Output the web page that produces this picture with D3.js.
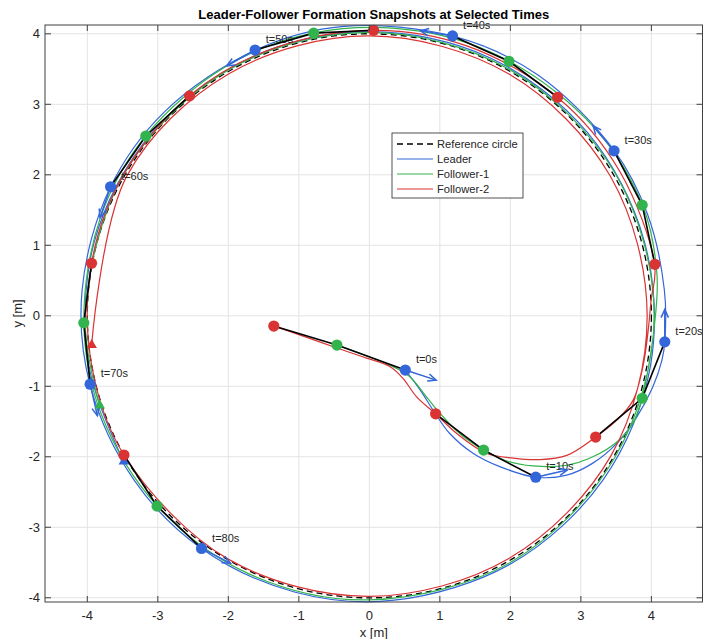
<!DOCTYPE html>
<html>
<head>
<meta charset="utf-8">
<script src="https://cdn.jsdelivr.net/npm/d3@7"></script>
<style>
  body { margin: 0; background: #fff; }
  text { font-family: "Liberation Sans", Arial, sans-serif; fill: #262626; }
</style>
</head>
<body>
<svg id="chart" width="703" height="639"></svg>
<script>
// ---- data ----
var xTicks = [-4, -3, -2, -1, 0, 1, 2, 3, 4];
var yTicks = [-4, -3, -2, -1, 0, 1, 2, 3, 4];
var refRadius = 4;

var snapTimes = [0, 10, 20, 30, 40, 50, 60, 70, 80];
var leaderSnap = [[0.51,-0.77],[2.36,-2.29],[4.19,-0.37],[3.47,2.34],[1.18,3.97],[-1.62,3.77],[-3.67,1.83],[-3.96,-0.97],[-2.38,-3.30]];
var f1Snap = [[-0.46,-0.415],[1.62,-1.905],[3.87,-1.17],[3.87,1.57],[1.98,3.61],[-0.79,4.01],[-3.17,2.55],[-4.05,-0.10],[-3.01,-2.70]];
var f2Snap = [[-1.355,-0.146],[0.94,-1.39],[3.21,-1.72],[4.05,0.73],[2.67,3.10],[0.06,4.05],[-2.55,3.12],[-3.94,0.745],[-3.48,-1.975]];
var leaderHeading = [-18, 13, 90, 130, 171, 209, 251, 283, 333]; // degrees
var arrowLen = 0.46;

// transient part of each path (x, y)
var leaderStart = [[0.51,-0.77],[0.72,-1.05],[0.905,-1.34],[1.14,-1.67],[1.47,-1.95],[1.85,-2.14],[2.36,-2.29],[2.8,-2.26],[3.17,-2.09],[3.51,-1.81],[3.79,-1.44],[4.02,-1.01],[4.15,-0.63],[4.19,-0.37]];
var f1Start = [[-0.46,-0.415],[0.29,-0.70],[0.57,-0.86],[0.81,-1.15],[1.0,-1.38],[1.28,-1.67],[1.62,-1.905],[1.95,-2.06],[2.32,-2.13],[2.80,-2.12],[3.17,-2.0],[3.51,-1.79],[3.74,-1.52],[3.87,-1.17],[3.96,-0.72],[4.03,-0.25]];
var f2Start = [[-1.355,-0.146],[-0.99,-0.27],[-0.51,-0.44],[-0.04,-0.60],[0.29,-0.72],[0.48,-0.89],[0.67,-1.15],[0.94,-1.39],[1.24,-1.67],[1.66,-1.95],[2.04,-2.02],[2.42,-2.04],[2.80,-1.98],[3.21,-1.72],[3.51,-1.48],[3.74,-1.20],[3.88,-0.72],[3.95,-0.25]];

// circling part of each path (angle deg, radius)
var leaderLaps = [[5,4.20],[20,4.20],[34,4.19],[55,4.17],[73,4.14],[95,4.12],[113,4.10],[135,4.10],[154,4.10],[175,4.09],[194,4.08],[215,4.07],[234,4.07],[255,4.06],[275,4.05],[300,4.05],[325,4.05],[350,4.05],[375,4.04],[400,4.04],[425,4.04],[450,4.03],[475,4.03],[500,4.03],[525,4.04],[550,4.04],[570.7,4.05]];
var f1Laps = [[8,4.12],[22,4.18],[40,4.16],[61,4.12],[80,4.10],[101,4.09],[120,4.08],[141,4.07],[160,4.06],[181.4,4.05],[200,4.05],[222,4.04],[245,4.04],[270,4.03],[300,4.03],[330,4.02],[360,4.04],[390,4.03],[420,4.02],[450,4.02],[480,4.02],[510,4.02],[540,4.03],[558.4,4.03]];
var f2Laps = [[3,4.0],[10,4.11],[30,4.10],[49,4.09],[70,4.07],[89,4.05],[110,4.03],[129,4.03],[150,4.02],[169,4.01],[190,4.0],[210,4.0],[240,3.99],[270,3.98],[300,3.97],[330,3.96],[360,3.94],[390,3.95],[420,3.96],[450,3.97],[480,3.97],[510,3.97],[546,3.96]];

var seriesNames = ["Reference circle", "Leader", "Follower-1", "Follower-2"];
var colors = { leader: "#3366d9", f1: "#33b34d", f2: "#d93333" };

// ---- layout ----
var svg = d3.select("#chart");
var padL = 45, padR = 702.5, padT = 25, padB = 602;
var x = d3.scaleLinear().domain([-4.6, 4.725]).range([padL, padR]);
var y = d3.scaleLinear().domain([-4.06, 4.125]).range([padB, padT]);

svg.append("rect").attr("width", 703).attr("height", 639).attr("fill", "#fff");

// grid
var grid = svg.append("g").attr("stroke", "#e3e3e3").attr("stroke-width", 1);
grid.selectAll(".gx").data(xTicks).enter().append("line")
    .attr("x1", d => x(d)).attr("x2", d => x(d)).attr("y1", padT).attr("y2", padB);
grid.selectAll(".gy").data(yTicks).enter().append("line")
    .attr("y1", d => y(d)).attr("y2", d => y(d)).attr("x1", padL).attr("x2", padR);

var plot = svg.append("g");

// reference circle
plot.append("circle")
    .attr("cx", x(0)).attr("cy", y(0))
    .attr("r", x(refRadius) - x(0))
    .attr("fill", "none").attr("stroke", "#000")
    .attr("stroke-width", 1.3).attr("stroke-dasharray", "6,4");

var line = d3.line()
    .x(d => x(d[0])).y(d => y(d[1]))
    .curve(d3.curveCatmullRom.alpha(0.5));

function pathPoints(start, laps) {
    return start.concat(laps.map(function (d) {
        var a = d[0] * Math.PI / 180;
        return [d[1] * Math.cos(a), d[1] * Math.sin(a)];
    }));
}

var leaderPath = pathPoints(leaderStart, leaderLaps);
var f1Path = pathPoints(f1Start, f1Laps);
var f2Path = pathPoints(f2Start, f2Laps);

[[leaderPath, colors.leader], [f1Path, colors.f1], [f2Path, colors.f2]].forEach(function (p) {
    plot.append("path").attr("d", line(p[0]))
        .attr("fill", "none").attr("stroke", p[1]).attr("stroke-width", 1.2);
});

// time labels (drawn under the marks, as in the figure)
plot.selectAll(null).data(snapTimes).enter().append("text")
    .attr("x", (d, i) => x(leaderSnap[i][0] + 0.15))
    .attr("y", (d, i) => y(leaderSnap[i][1] + 0.15))
    .attr("dy", "0.35em")
    .attr("font-size", "11px")
    .text(d => "t=" + d + "s");

// formation lines at snapshots
snapTimes.forEach(function (t, i) {
    plot.append("path")
        .attr("d", d3.line().x(d => x(d[0])).y(d => y(d[1]))([leaderSnap[i], f1Snap[i], f2Snap[i]]))
        .attr("fill", "none").attr("stroke", "#000").attr("stroke-width", 1.6);
});

// heading arrows of leader
snapTimes.forEach(function (t, i) {
    var a = leaderHeading[i] * Math.PI / 180;
    var p0 = leaderSnap[i];
    var p1 = [p0[0] + arrowLen * Math.cos(a), p0[1] + arrowLen * Math.sin(a)];
    var x0 = x(p0[0]), y0 = y(p0[1]), x1 = x(p1[0]), y1 = y(p1[1]);
    var ang = Math.atan2(y1 - y0, x1 - x0), hl = 9, hw = 0.42;
    var g = plot.append("g").attr("stroke", colors.leader).attr("stroke-width", 1.5).attr("fill", "none");
    g.append("line").attr("x1", x0).attr("y1", y0).attr("x2", x1).attr("y2", y1);
    g.append("path").attr("d",
        "M" + (x1 - hl * Math.cos(ang - hw)) + "," + (y1 - hl * Math.sin(ang - hw)) +
        "L" + x1 + "," + y1 +
        "L" + (x1 - hl * Math.cos(ang + hw)) + "," + (y1 - hl * Math.sin(ang + hw)));
});

// end markers (triangles)
var tri = d3.symbol().type(d3.symbolTriangle).size(48);
[[leaderPath, colors.leader], [f1Path, colors.f1], [f2Path, colors.f2]].forEach(function (p) {
    var e = p[0][p[0].length - 1];
    plot.append("path").attr("d", tri())
        .attr("transform", "translate(" + x(e[0]) + "," + y(e[1]) + ")")
        .attr("fill", p[1]);
});

// snapshot markers
[[f2Snap, colors.f2], [f1Snap, colors.f1], [leaderSnap, colors.leader]].forEach(function (s) {
    plot.selectAll(null).data(s[0]).enter().append("circle")
        .attr("cx", d => x(d[0])).attr("cy", d => y(d[1]))
        .attr("r", 5.6).attr("fill", s[1]);
});

// axes box and ticks
var ax = svg.append("g").attr("stroke", "#404040").attr("stroke-width", 1);
ax.append("rect").attr("x", padL).attr("y", padT).attr("width", padR - padL).attr("height", padB - padT).attr("fill", "none");
xTicks.forEach(function (d) {
    ax.append("line").attr("x1", x(d)).attr("x2", x(d)).attr("y1", padB).attr("y2", padB - 6);
    ax.append("line").attr("x1", x(d)).attr("x2", x(d)).attr("y1", padT).attr("y2", padT + 6);
});
yTicks.forEach(function (d) {
    ax.append("line").attr("y1", y(d)).attr("y2", y(d)).attr("x1", padL).attr("x2", padL + 6);
    ax.append("line").attr("y1", y(d)).attr("y2", y(d)).attr("x1", padR).attr("x2", padR - 6);
});
svg.selectAll(".xt").data(xTicks).enter().append("text")
    .attr("x", d => x(d)).attr("y", 620).attr("text-anchor", "middle")
    .attr("font-size", "13px").text(d => d);
svg.selectAll(".yt").data(yTicks).enter().append("text")
    .attr("x", 40).attr("y", d => y(d)).attr("dy", "0.35em").attr("text-anchor", "end")
    .attr("font-size", "13px").text(d => d);

svg.append("text").attr("x", (padL + padR) / 2).attr("y", 637).attr("text-anchor", "middle")
    .attr("font-size", "13px").text("x [m]");
svg.append("text").attr("transform", "translate(22," + (padT + padB) / 2 + ") rotate(-90)")
    .attr("text-anchor", "middle").attr("font-size", "13px").text("y [m]");
svg.append("text").attr("x", (padL + padR) / 2).attr("y", 18.5).attr("text-anchor", "middle")
    .attr("font-size", "13px").attr("font-weight", "bold").style("fill", "#000")
    .text("Leader-Follower Formation Snapshots at Selected Times");

// legend
var lg = svg.append("g").attr("transform", "translate(392,133)");
lg.append("rect").attr("width", 131).attr("height", 65).attr("fill", "#fff")
    .attr("stroke", "#262626").attr("stroke-width", 0.8);
var legColors = ["#000", colors.leader, colors.f1, colors.f2];
seriesNames.forEach(function (n, i) {
    var yy = 11 + i * 15;
    lg.append("line").attr("x1", 5).attr("x2", 41).attr("y1", yy).attr("y2", yy)
        .attr("stroke", legColors[i]).attr("stroke-width", i === 0 ? 1.4 : 1.2)
        .attr("stroke-dasharray", i === 0 ? "6,4" : null);
    lg.append("text").attr("x", 45).attr("y", yy).attr("dy", "0.35em")
        .attr("font-size", "11.2px").text(n);
});
</script>
</body>
</html>
